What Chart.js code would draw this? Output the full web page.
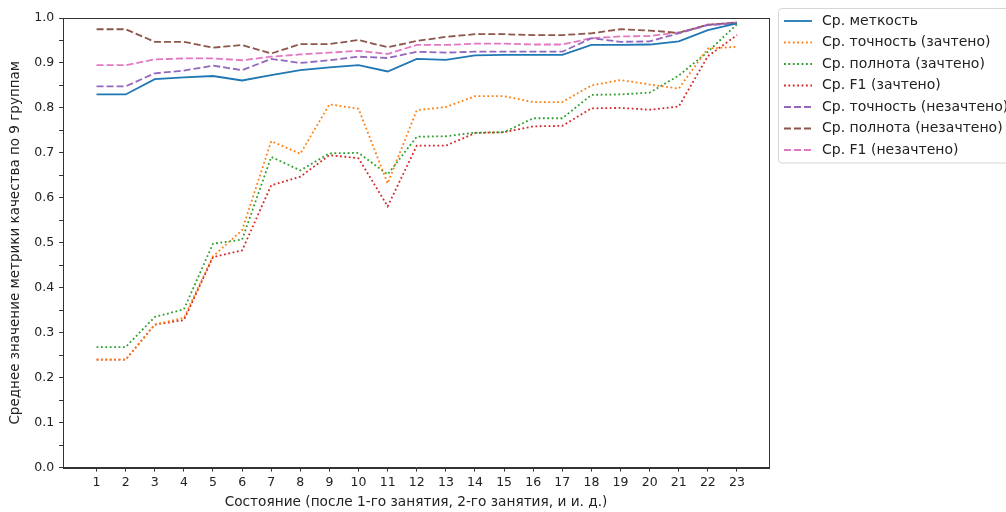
<!DOCTYPE html>
<html>
<head>
<meta charset="utf-8">
<script src="https://cdn.jsdelivr.net/npm/chart.js@4.4.1/dist/chart.umd.min.js"></script>
<style>
  html, body { margin: 0; padding: 0; background: #fff; overflow: hidden; }
  #wrap { position: relative; width: 1006px; height: 512px; }
</style>
</head>
<body>
<div id="wrap"><canvas id="metricsChart"></canvas></div>
<script>
// Chart data
const states = [1, 2, 3, 4, 5, 6, 7, 8, 9, 10, 11, 12, 13, 14, 15, 16, 17, 18, 19, 20, 21, 22, 23];

const accuracy = [0.830, 0.830, 0.864, 0.868, 0.871, 0.861, 0.873, 0.884, 0.890, 0.895, 0.881, 0.909,
                  0.907, 0.917, 0.918, 0.918, 0.918, 0.940, 0.940, 0.941, 0.948, 0.973, 0.988];
const precPassed = [0.240, 0.240, 0.318, 0.333, 0.470, 0.528, 0.726, 0.698, 0.808, 0.798, 0.632, 0.795,
                    0.802, 0.826, 0.826, 0.813, 0.813, 0.850, 0.862, 0.852, 0.843, 0.932, 0.936];
const recPassed = [0.268, 0.268, 0.335, 0.352, 0.498, 0.507, 0.691, 0.661, 0.699, 0.700, 0.652, 0.736,
                   0.737, 0.745, 0.746, 0.777, 0.777, 0.829, 0.830, 0.834, 0.872, 0.925, 0.986];
const f1Passed = [0.240, 0.240, 0.318, 0.328, 0.468, 0.483, 0.628, 0.647, 0.695, 0.688, 0.581, 0.716,
                  0.716, 0.744, 0.746, 0.759, 0.760, 0.799, 0.800, 0.796, 0.803, 0.915, 0.962];
const precFailed = [0.848, 0.848, 0.877, 0.883, 0.894, 0.884, 0.909, 0.900, 0.906, 0.914, 0.911, 0.925,
                    0.923, 0.925, 0.925, 0.925, 0.925, 0.955, 0.947, 0.948, 0.966, 0.984, 0.988];
const recFailed = [0.975, 0.975, 0.947, 0.947, 0.934, 0.940, 0.921, 0.942, 0.942, 0.951, 0.935, 0.949,
                   0.958, 0.964, 0.964, 0.962, 0.962, 0.966, 0.975, 0.972, 0.967, 0.985, 0.990];
const f1Failed = [0.895, 0.895, 0.908, 0.910, 0.910, 0.906, 0.914, 0.919, 0.923, 0.927, 0.920, 0.940,
                  0.940, 0.943, 0.943, 0.941, 0.941, 0.955, 0.959, 0.960, 0.968, 0.985, 0.990];

const seriesLabels = [
    'Ср. меткость',
    'Ср. точность (зачтено)',
    'Ср. полнота (зачтено)',
    'Ср. F1 (зачтено)',
    'Ср. точность (незачтено)',
    'Ср. полнота (незачтено)',
    'Ср. F1 (незачтено)'
];
const yTitle = 'Среднее значение метрики качества по 9 группам';
const xTitle = 'Состояние (после 1-го занятия, 2-го занятия, и и. д.)';

const DOT = [1.8, 2.6];
const DASH = [7, 3];

function makeSet(label, values, color, dash) {
    return {
        label: label,
        data: values.map((v, i) => ({ x: states[i], y: v })),
        borderColor: color,
        backgroundColor: color,
        borderWidth: 1.8,
        borderDash: dash,
        pointRadius: 0,
        tension: 0,
        fill: false
    };
}

// Frame around the plot area (matplotlib style spines)
const framePlugin = {
    id: 'frame',
    afterDraw(chart) {
        const a = chart.chartArea;
        const ctx = chart.ctx;
        ctx.save();
        ctx.strokeStyle = '#333';
        ctx.lineWidth = 1;
        ctx.strokeRect(Math.round(a.left) + 0.5, Math.round(a.top) + 0.5,
            Math.round(a.right - a.left), Math.round(a.bottom - a.top));
        ctx.restore();
    }
};

// Legend outside the axes on the right, clipped by the window like the original
const boxLegend = {
    id: 'boxLegend',
    afterDraw(chart) {
        const ctx = chart.ctx;
        const x0 = chart.chartArea.right + 9;
        const y0 = 8;
        const rowH = 21.5;
        const sets = chart.data.datasets;
        ctx.save();
        ctx.beginPath();
        ctx.roundRect(x0 + 0.5, y0 + 0.5, 300, sets.length * rowH + 4, 3);
        ctx.fillStyle = 'rgba(255,255,255,0.85)';
        ctx.fill();
        ctx.strokeStyle = '#d6d6d6';
        ctx.lineWidth = 1;
        ctx.stroke();
        ctx.font = '14px "DejaVu Sans"';
        ctx.textBaseline = 'middle';
        sets.forEach((ds, i) => {
            const y = y0 + 13 + i * rowH;
            ctx.beginPath();
            ctx.setLineDash(ds.borderDash || []);
            ctx.strokeStyle = ds.borderColor;
            ctx.lineWidth = ds.borderWidth;
            ctx.moveTo(x0 + 6, y);
            ctx.lineTo(x0 + 34, y);
            ctx.stroke();
            ctx.setLineDash([]);
            ctx.fillStyle = '#222';
            ctx.fillText(ds.label, x0 + 44, y);
        });
        ctx.restore();
    }
};

function initializeChart() {
    Chart.defaults.font.family = '"DejaVu Sans", sans-serif';
    Chart.defaults.font.size = 12.5;
    Chart.defaults.color = '#222';

    const ctx = document.getElementById('metricsChart').getContext('2d');
    new Chart(ctx, {
        type: 'line',
        data: {
            datasets: [
                makeSet(seriesLabels[0], accuracy, '#1f77b4', []),
                makeSet(seriesLabels[1], precPassed, '#ff7f0e', DOT),
                makeSet(seriesLabels[2], recPassed, '#2ca02c', DOT),
                makeSet(seriesLabels[3], f1Passed, '#d62728', DOT),
                makeSet(seriesLabels[4], precFailed, '#9467bd', DASH),
                makeSet(seriesLabels[5], recFailed, '#8c564b', DASH),
                makeSet(seriesLabels[6], f1Failed, '#e377c2', DASH)
            ]
        },
        options: {
            responsive: true,
            maintainAspectRatio: false,
            animation: false,
            layout: {
                padding: { left: 7, right: 237, top: 18, bottom: 1 }
            },
            plugins: {
                legend: { display: false },
                tooltip: { enabled: false }
            },
            scales: {
                x: {
                    type: 'linear',
                    min: -0.15,
                    max: 24.1,
                    afterBuildTicks: axis => {
                        axis.ticks = states.map(v => ({ value: v }));
                    },
                    ticks: {
                        autoSkip: false,
                        maxRotation: 0,
                        padding: 4,
                        callback: v => String(v)
                    },
                    grid: {
                        drawOnChartArea: false,
                        drawTicks: true,
                        tickLength: 4,
                        tickColor: '#333'
                    },
                    border: { color: '#333' },
                    title: {
                        display: true,
                        text: xTitle,
                        font: { size: 13.7 },
                        padding: { top: 0, bottom: 0 }
                    }
                },
                y: {
                    min: 0,
                    max: 1,
                    ticks: {
                        stepSize: 0.05,
                        autoSkip: false,
                        padding: 5,
                        callback: v => (Math.round(v * 100) % 10 === 0 ? v.toFixed(1) : '')
                    },
                    grid: {
                        drawOnChartArea: false,
                        drawTicks: true,
                        tickLength: 4,
                        tickColor: '#333'
                    },
                    border: { color: '#333' },
                    title: {
                        display: true,
                        text: yTitle,
                        font: { size: 13.5 },
                        padding: { top: 0, bottom: 6 }
                    }
                }
            }
        },
        plugins: [framePlugin, boxLegend]
    });
}

document.addEventListener('DOMContentLoaded', function() {
    initializeChart();
});
</script>
</body>
</html>
